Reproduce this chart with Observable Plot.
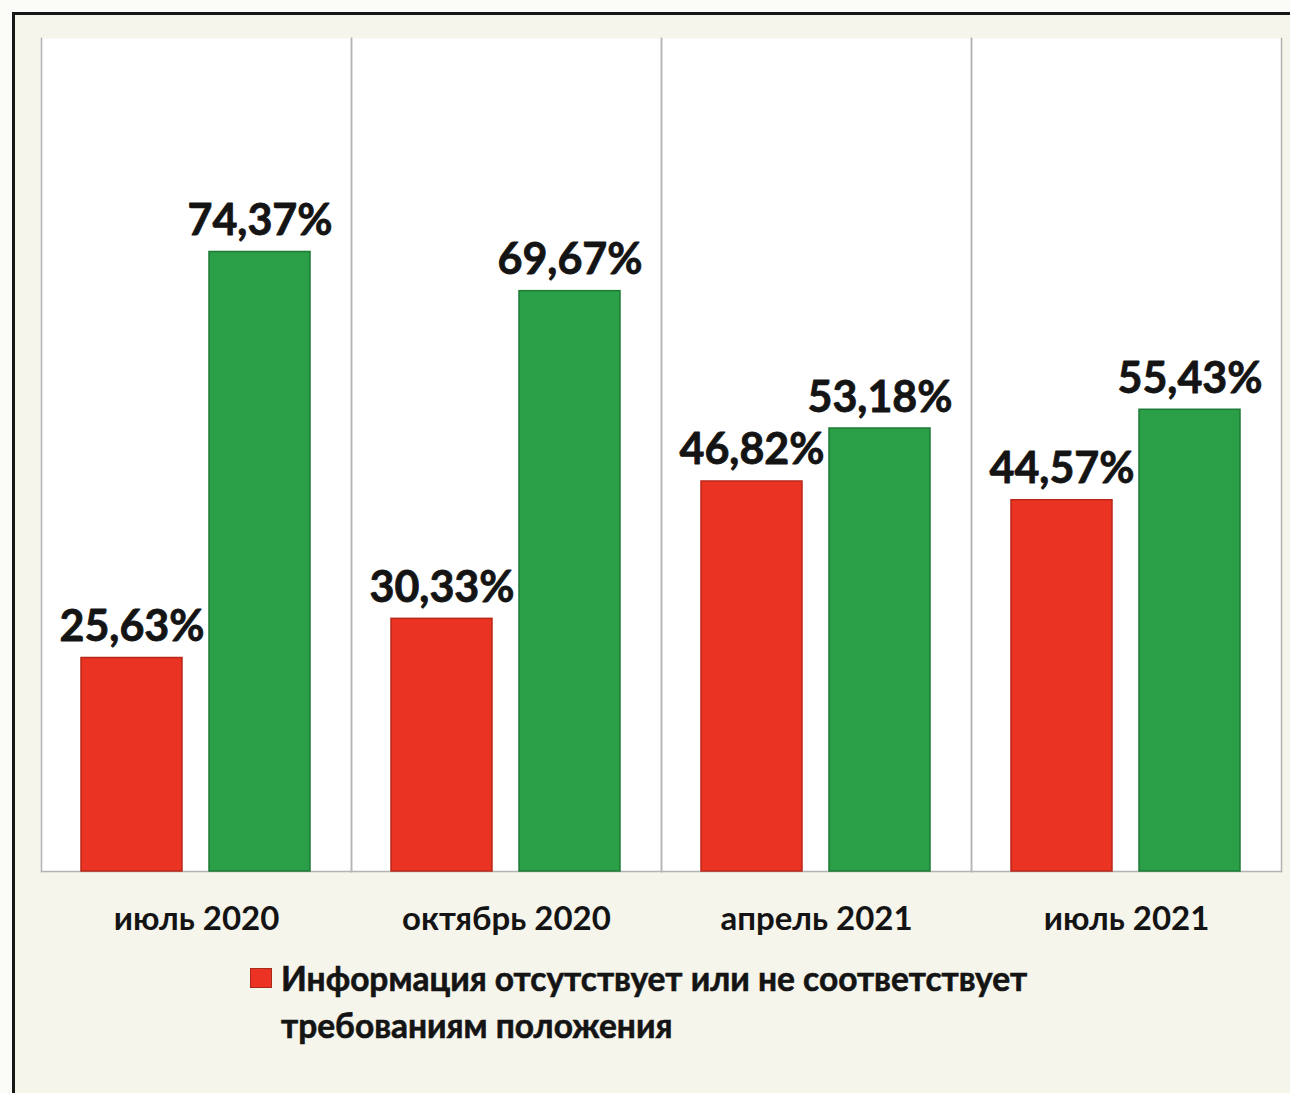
<!DOCTYPE html>
<html>
<head>
<meta charset="utf-8">
<script src="https://cdn.jsdelivr.net/npm/d3@7"></script>
<script src="https://cdn.jsdelivr.net/npm/@observablehq/plot@0.6"></script>
<style>
  html, body { margin: 0; padding: 0; background: #fbfbf8; overflow: hidden; }
  #frame {
    position: absolute; left: 12px; top: 12px;
    width: 1300px; height: 1100px;
    border: 3px solid #161616;
    background: #f5f5ec;
    font-family: Lato, "Open Sans", sans-serif;
  }
  #chart { position: absolute; left: 0; top: 0; }
  #legend {
    position: absolute; left: 235px; top: 940px;
    width: 820px;
    font: bold 33.5px Lato, sans-serif; color: #141414;
    -webkit-text-stroke: 0.6px #141414;
    line-height: 47px;
    display: flex; align-items: flex-start;
  }
  #legend .sw {
    flex: none; width: 22px; height: 20px; margin-top: 13px; margin-right: 9px;
    background: #ec3323; border: 1px solid #a52a1a; box-sizing: border-box;
  }
</style>
</head>
<body>
<div id="frame">
  <div id="chart"></div>
  <div id="legend"><span class="sw"></span><span id="legendText"></span></div>
</div>
<script>
const categories = ["июль 2020", "октябрь 2020", "апрель 2021", "июль 2021"];
const seriesKeys = ["missing", "present"];
const seriesLabels = ["Информация отсутствует или не соответствует требованиям положения", "Информация соответствует"];
const missingValues = [25.63, 30.33, 46.82, 44.57];
const presentValues = [74.37, 69.67, 53.18, 55.43];
const seriesColors = ["#ea3322", "#2b9e48"];
const seriesStrokes = ["#b8281a", "#1d7a35"];

const data = [];
categories.forEach((c, i) => {
  data.push({cat: c, series: "missing", value: missingValues[i]});
  data.push({cat: c, series: "present", value: presentValues[i]});
});
const fmt = v => v.toFixed(2).replace(".", ",") + "%";

document.getElementById("legendText").textContent = seriesLabels[0];

const chart = Plot.plot({
  width: 1275,
  height: 935,
  marginLeft: 25,
  marginRight: 9,
  marginTop: 23,
  marginBottom: 79,
  style: {background: "transparent", fontFamily: "Lato, sans-serif", overflow: "visible"},
  fx: {domain: categories, padding: 0, label: null},
  x: {domain: seriesKeys, paddingInner: 0.21, paddingOuter: 0.31, axis: null},
  y: {domain: [0, 100], axis: null},
  color: {domain: seriesKeys, range: seriesColors},
  marks: [
    Plot.frame({fill: "white", stroke: "none"}),
    Plot.frame({anchor: "left", stroke: "#b4b4b4", strokeWidth: 1.5}),
    Plot.frame({anchor: "right", stroke: "#b4b4b4", strokeWidth: 1.5}),
    Plot.frame({anchor: "bottom", stroke: "#b4b4b4", strokeWidth: 1.5}),
    Plot.barY(data, {
      fx: "cat", x: "series", y: "value", fill: "series",
      stroke: d => seriesStrokes[seriesKeys.indexOf(d.series)], strokeWidth: 1.5
    }),
    Plot.text(data, {
      fx: "cat", x: "series", y: "value", text: d => fmt(d.value),
      lineAnchor: "bottom", dy: -17, fontSize: 43, fontWeight: "bold",
      fill: "#141414", stroke: "#141414", strokeWidth: 0.8
    }),
    Plot.axisFx({anchor: "bottom", tickSize: 0, tickPadding: 35, fontSize: 33, fontWeight: "bold", color: "#141414", label: null,
      stroke: "#141414", strokeWidth: 0.6})
  ]
});
document.getElementById("chart").appendChild(chart);
</script>
</body>
</html>
